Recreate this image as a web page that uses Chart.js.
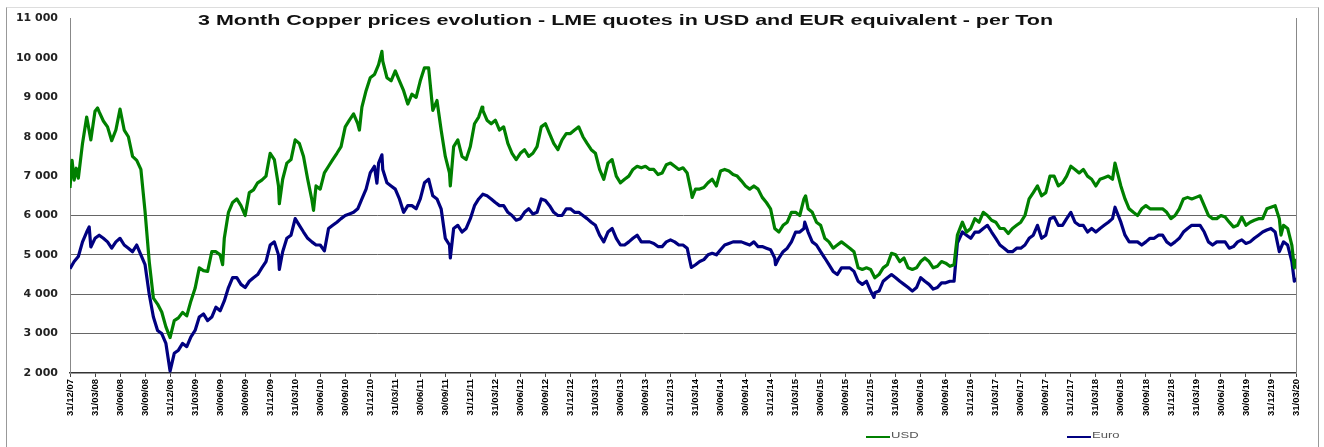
<!DOCTYPE html>
<html><head><meta charset="utf-8">
<script src="https://cdn.jsdelivr.net/npm/chart.js@4.4.1/dist/chart.umd.min.js"></script>
<style>
html,body{margin:0;padding:0;background:#fff;}
#wrap{position:relative;width:1324px;height:447px;overflow:hidden;}
#frame{position:absolute;left:6px;top:7px;width:1313px;height:470px;border:1px solid #999;border-top-color:#ddd;box-sizing:border-box;}
canvas{position:absolute;left:0;top:0;}
.ls{position:absolute;height:2px;width:24px;top:436px;}
.lt{position:absolute;top:430px;font:9px "Liberation Sans",Arial,sans-serif;color:#555;transform:scaleX(1.45);transform-origin:left top;white-space:nowrap;}
</style></head>
<body><div id="wrap"><div id="frame"></div><canvas id="c" width="1324" height="447"></canvas>
<div class="ls" style="left:866px;background:#008000"></div><div class="lt" style="left:891px">USD</div>
<div class="ls" style="left:1067px;background:#000080"></div><div class="lt" style="left:1092px">Euro</div>
</div>
<script>
const titleText = "3 Month Copper prices evolution - LME quotes in USD and EUR equivalent - per Ton";
const quarterLabels = ["31/12/07","31/03/08","30/06/08","30/09/08","31/12/08","31/03/09","30/06/09","30/09/09","31/12/09","31/03/10","30/06/10","30/09/10","31/12/10","31/03/11","30/06/11","30/09/11","31/12/11","31/03/12","30/06/12","30/09/12","31/12/12","31/03/13","30/06/13","30/09/13","31/12/13","31/03/14","30/06/14","30/09/14","31/12/14","31/03/15","30/06/15","30/09/15","31/12/15","31/03/16","30/06/16","30/09/16","31/12/16","31/03/17","30/06/17","30/09/17","31/12/17","31/03/18","30/06/18","30/09/18","31/12/18","31/03/19","30/06/19","30/09/19","31/12/19","31/03/20"];
// [months since 31/12/2007, price per ton]
const usdQuotes = [[0,6700],[0.25,7400],[0.5,6900],[0.75,7200],[1,6950],[1.5,7830],[2,8500],[2.5,7920],[3,8650],[3.3,8730],[3.5,8630],[4,8400],[4.5,8250],[5,7900],[5.5,8170],[6,8700],[6.5,8170],[7,8000],[7.5,7500],[8,7400],[8.5,7170],[9,6100],[9.5,4830],[10,3900],[10.5,3750],[11,3550],[11.5,3170],[12,2900],[12.5,3330],[13,3400],[13.5,3540],[14,3450],[14.5,3830],[15,4150],[15.5,4670],[16,4600],[16.5,4580],[17,5080],[17.5,5080],[18,5000],[18.3,4750],[18.5,5420],[19,6080],[19.5,6330],[20,6420],[20.5,6250],[21,6000],[21.5,6580],[22,6650],[22.5,6830],[23,6900],[23.5,7000],[24,7580],[24.5,7420],[25,6750],[25.1,6300],[25.5,6920],[26,7330],[26.5,7420],[27,7920],[27.5,7830],[28,7500],[28.5,6920],[29,6400],[29.2,6130],[29.5,6750],[30,6670],[30.5,7080],[31,7250],[31.5,7420],[32,7580],[32.5,7750],[33,8250],[33.5,8420],[34,8580],[34.5,8330],[34.7,8170],[35,8750],[35.5,9170],[36,9500],[36.5,9580],[37,9830],[37.4,10170],[37.5,9920],[38,9500],[38.5,9420],[39,9670],[39.5,9420],[40,9170],[40.5,8830],[41,9080],[41.5,9000],[42,9420],[42.5,9750],[43,9750],[43.5,8670],[44,8920],[44.5,8170],[45,7500],[45.5,7080],[45.6,6750],[46,7750],[46.5,7920],[47,7500],[47.5,7420],[48,7750],[48.5,8330],[49,8500],[49.4,8750],[49.5,8670],[50,8420],[50.5,8330],[51,8420],[51.5,8170],[52,8250],[52.5,7830],[53,7580],[53.5,7420],[54,7580],[54.5,7670],[55,7500],[55.5,7580],[56,7750],[56.5,8250],[57,8330],[57.5,8080],[58,7830],[58.5,7670],[59,7920],[59.5,8080],[60,8080],[60.5,8170],[61,8250],[61.5,8000],[62,7830],[62.5,7670],[63,7580],[63.5,7170],[64,6920],[64.5,7330],[65,7420],[65.5,7000],[66,6830],[66.5,6920],[67,7000],[67.5,7170],[68,7250],[68.5,7210],[69,7250],[69.5,7170],[70,7170],[70.5,7040],[71,7080],[71.5,7290],[72,7330],[72.5,7250],[73,7170],[73.5,7210],[74,7080],[74.5,6580],[74.6,6460],[75,6670],[75.5,6670],[76,6710],[76.5,6830],[77,6920],[77.5,6750],[78,7130],[78.5,7170],[79,7130],[79.5,7040],[80,7000],[80.5,6880],[81,6750],[81.5,6670],[82,6750],[82.5,6670],[83,6460],[83.5,6330],[84,6170],[84.5,5670],[85,5580],[85.5,5750],[86,5830],[86.5,6080],[87,6080],[87.5,6000],[88,6420],[88.2,6500],[88.5,6170],[89,6080],[89.5,5830],[90,5750],[90.5,5420],[91,5330],[91.5,5170],[92,5250],[92.5,5330],[93,5250],[93.5,5170],[94,5080],[94.5,4670],[95,4630],[95.5,4670],[96,4630],[96.5,4420],[97,4500],[97.5,4670],[98,4750],[98.5,5040],[99,5000],[99.5,4830],[100,4920],[100.5,4670],[101,4630],[101.5,4670],[102,4830],[102.5,4920],[103,4830],[103.5,4670],[104,4710],[104.5,4830],[105,4790],[105.5,4710],[106,4750],[106.4,5500],[107,5830],[107.5,5580],[108,5670],[108.5,5920],[109,5830],[109.5,6080],[110,6000],[110.5,5880],[111,5830],[111.5,5670],[112,5670],[112.5,5540],[113,5670],[113.5,5750],[114,5830],[114.5,6000],[115,6420],[115.5,6580],[116,6750],[116.5,6500],[117,6580],[117.5,7000],[118,7000],[118.5,6750],[119,6830],[119.5,7000],[120,7250],[120.5,7170],[121,7080],[121.5,7170],[122,7000],[122.5,6920],[123,6750],[123.5,6920],[124,6960],[124.5,7000],[125,6920],[125.3,7330],[126,6750],[126.5,6420],[127,6170],[127.5,6080],[128,6000],[128.5,6170],[129,6250],[129.5,6170],[130,6170],[130.5,6170],[131,6170],[131.5,6080],[132,5920],[132.5,6000],[133,6170],[133.5,6420],[134,6460],[134.5,6420],[135,6460],[135.5,6500],[136,6250],[136.5,6000],[137,5920],[137.5,5920],[138,6000],[138.5,5960],[139,5830],[139.5,5710],[140,5750],[140.5,5960],[141,5750],[141.5,5830],[142,5880],[142.5,5920],[143,5920],[143.5,6170],[144,6210],[144.5,6250],[145,5920],[145.2,5500],[145.5,5750],[146,5670],[146.5,5250],[146.8,4670],[147,4900]];
const eurQuotes = [[0,4650],[0.5,4830],[1,4960],[1.5,5330],[2,5580],[2.3,5710],[2.5,5200],[3,5420],[3.5,5500],[4,5420],[4.5,5330],[5,5170],[5.5,5330],[6,5420],[6.5,5250],[7,5170],[7.5,5080],[8,5250],[8.5,5000],[9,4750],[9.5,4000],[10,3420],[10.5,3080],[11,3000],[11.5,2750],[12,2050],[12.5,2500],[13,2580],[13.5,2750],[14,2670],[14.5,2920],[15,3080],[15.5,3420],[16,3500],[16.5,3330],[17,3420],[17.5,3670],[18,3580],[18.5,3830],[19,4170],[19.5,4420],[20,4420],[20.5,4250],[21,4170],[21.5,4330],[22,4420],[22.5,4500],[23,4670],[23.5,4830],[24,5250],[24.5,5330],[25,5000],[25.1,4630],[25.5,5080],[26,5420],[26.5,5500],[27,5920],[27.5,5750],[28,5580],[28.5,5420],[29,5330],[29.5,5250],[30,5250],[30.5,5100],[31,5670],[31.5,5750],[32,5830],[32.5,5920],[33,6000],[33.5,6040],[34,6080],[34.5,6170],[35,6420],[35.5,6670],[36,7080],[36.5,7250],[36.8,6820],[37,7330],[37.4,7540],[37.5,7170],[38,6830],[38.5,6750],[39,6670],[39.5,6420],[40,6080],[40.5,6250],[41,6250],[41.5,6170],[42,6420],[42.5,6830],[43,6920],[43.5,6500],[44,6420],[44.5,6170],[45,5420],[45.5,5250],[45.6,4920],[46,5670],[46.5,5750],[47,5580],[47.5,5670],[48,5920],[48.5,6250],[49,6420],[49.5,6540],[50,6500],[50.5,6420],[51,6330],[51.5,6250],[52,6250],[52.5,6080],[53,6000],[53.5,5880],[54,5920],[54.5,6080],[55,6170],[55.5,6040],[56,6080],[56.5,6420],[57,6380],[57.5,6250],[58,6080],[58.5,6000],[59,6000],[59.5,6170],[60,6170],[60.5,6080],[61,6080],[61.5,6000],[62,5920],[62.5,5830],[63,5750],[63.5,5500],[64,5330],[64.5,5580],[65,5670],[65.5,5420],[66,5250],[66.5,5250],[67,5330],[67.5,5420],[68,5500],[68.5,5330],[69,5330],[69.5,5330],[70,5290],[70.5,5210],[71,5210],[71.5,5330],[72,5380],[72.5,5330],[73,5250],[73.5,5250],[74,5170],[74.5,4680],[75,4750],[75.5,4830],[76,4880],[76.5,5000],[77,5040],[77.5,5000],[78,5130],[78.5,5250],[79,5290],[79.5,5330],[80,5330],[80.5,5330],[81,5290],[81.5,5250],[82,5330],[82.5,5210],[83,5210],[83.5,5170],[84,5130],[84.5,4920],[84.6,4750],[85,4920],[85.5,5080],[86,5170],[86.5,5330],[87,5580],[87.5,5580],[88,5670],[88.1,5830],[88.5,5580],[89,5330],[89.5,5250],[90,5080],[90.5,4920],[91,4750],[91.5,4580],[92,4500],[92.5,4670],[93,4670],[93.5,4670],[94,4580],[94.5,4330],[95,4250],[95.5,4330],[96,4080],[96.4,3920],[96.5,4040],[97,4080],[97.5,4330],[98,4420],[98.5,4500],[99,4420],[99.5,4330],[100,4250],[100.5,4170],[101,4080],[101.5,4170],[102,4420],[102.5,4330],[103,4250],[103.5,4130],[104,4170],[104.5,4290],[105,4290],[105.5,4330],[106,4330],[106.4,5300],[107,5580],[107.5,5500],[108,5420],[108.5,5580],[109,5580],[109.5,5670],[110,5750],[110.5,5580],[111,5420],[111.5,5250],[112,5170],[112.5,5080],[113,5080],[113.5,5170],[114,5170],[114.5,5250],[115,5420],[115.5,5500],[116,5750],[116.5,5420],[117,5500],[117.5,5920],[118,5960],[118.5,5750],[119,5750],[119.5,5920],[120,6080],[120.5,5830],[121,5750],[121.5,5750],[122,5580],[122.5,5670],[123,5580],[123.5,5670],[124,5750],[124.5,5830],[125,5920],[125.3,6210],[126,5830],[126.5,5500],[127,5330],[127.5,5330],[128,5330],[128.5,5250],[129,5330],[129.5,5420],[130,5420],[130.5,5500],[131,5500],[131.5,5330],[132,5250],[132.5,5330],[133,5420],[133.5,5580],[134,5670],[134.5,5750],[135,5750],[135.5,5750],[136,5580],[136.5,5330],[137,5250],[137.5,5330],[138,5330],[138.5,5330],[139,5170],[139.5,5210],[140,5330],[140.5,5380],[141,5290],[141.5,5330],[142,5420],[142.5,5500],[143,5580],[143.5,5630],[144,5670],[144.5,5580],[145,5080],[145.5,5330],[146,5250],[146.5,4830],[146.8,4330],[147,4420]];

const fmt = v => String(v).replace(/\B(?=(\d{3})+(?!\d))/g, ' ');
const toPts = q => q.map(p => ({x: p[0], y: p[1]}));

const titlePlugin = {
  id: 'stretchedTitle',
  afterDraw(chart) {
    const c = chart.ctx;
    c.save();
    c.font = 'bold 14px "Liberation Sans", Arial, sans-serif';
    const w = c.measureText(titleText).width;
    c.translate(198, 25);
    c.scale(855 / w, 1);
    c.fillStyle = '#111';
    c.textBaseline = 'alphabetic';
    c.fillText(titleText, 0, 0);
    c.restore();
  }
};

new Chart(document.getElementById('c'), {
  type: 'line',
  data: {
    datasets: [
      {label: 'USD', data: toPts(usdQuotes), borderColor: '#008000', borderWidth: 3.2, pointRadius: 0, tension: 0, fill: false, borderJoinStyle: 'round'},
      {label: 'Euro', data: toPts(eurQuotes), borderColor: '#000080', borderWidth: 3.2, pointRadius: 0, tension: 0, fill: false, borderJoinStyle: 'round'}
    ]
  },
  options: {
    responsive: false,
    animation: false,
    layout: {padding: {top: 13, right: 28, left: 0, bottom: 0}},
    plugins: {legend: {display: false}, title: {display: false}, tooltip: {enabled: false}},
    scales: {
      x: {
        type: 'linear', min: 0, max: 147,
        ticks: {
          stepSize: 3, autoSkip: false, maxRotation: 90, minRotation: 90, padding: 2,
          color: '#000',
          font: {family: '"Liberation Sans Narrow", "Liberation Sans", Arial, sans-serif', size: 9.5, weight: 'bold'},
          callback: v => quarterLabels[Math.round(v / 3)]
        },
        grid: {drawOnChartArea: false, drawTicks: true, tickLength: 4, color: '#444'},
        border: {color: '#333', width: 1.5},
        afterFit: s => { s.height = 74; }
      },
      y: {
        min: 2000, max: 11000,
        ticks: {stepSize: 1000, padding: 12, color: '#222',
          font: {family: '"DejaVu Sans", Arial, sans-serif', weight: 'bold', size: 11},
          callback: v => fmt(v)},
        grid: {drawTicks: false, lineWidth: 1,
          color: c => (c.tick && c.tick.value >= 3000 && c.tick.value <= 6000) ? '#666' : 'rgba(0,0,0,0)'},
        border: {color: '#888'},
        afterFit: s => { s.width = 70; }
      },
      y2: {
        position: 'right', min: 2000, max: 11000,
        ticks: {display: false}, grid: {display: false},
        border: {color: '#888'},
        afterFit: s => { s.width = 0; }
      }
    }
  },
  plugins: [titlePlugin]
});
</script></body></html>
